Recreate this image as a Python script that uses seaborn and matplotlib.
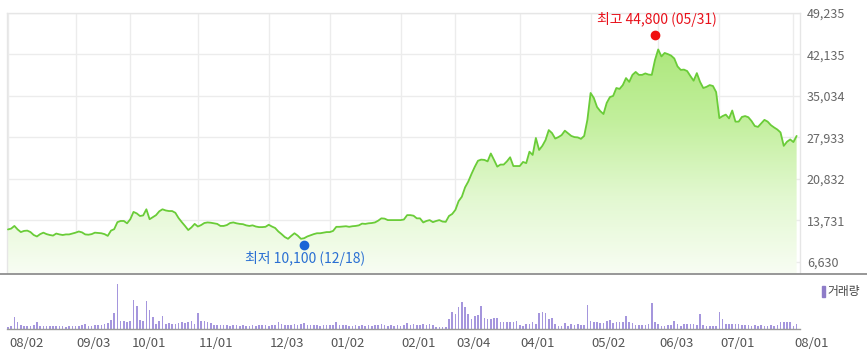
import numpy as np
import pandas as pd
import matplotlib
matplotlib.use("Agg")
import matplotlib.pyplot as plt
import matplotlib.transforms as mtransforms
import seaborn as sns
from matplotlib.colors import LinearSegmentedColormap
from matplotlib.lines import Line2D
from matplotlib.patches import Rectangle

# ---------------- data ----------------
holidays = ['2018-08-15', '2018-09-24', '2018-09-25', '2018-09-26', '2018-10-03',
            '2018-10-09', '2018-12-25', '2018-12-31', '2019-01-01', '2019-02-04',
            '2019-02-05', '2019-02-06', '2019-03-01', '2019-05-01', '2019-05-06',
            '2019-06-06']
dates = pd.bdate_range('2018-08-02', '2019-08-02')
dates = dates[~dates.isin(pd.to_datetime(holidays))]

prices = [
    12200, 12350, 12800, 12200, 11750, 11950, 12000, 11750, 11250, 11000,
    11400, 11650, 11400, 11250, 11150, 11500, 11350, 11250, 11350, 11350,
    11500, 11650, 11850, 11700, 11350, 11300, 11400, 11650, 11600, 11550,
    11400, 11100, 12000, 12250, 13450, 13650,
    13650, 13250, 13950, 15200, 14950, 14500, 14600, 15650, 13950, 14300,
    14650, 15300, 15650, 15450, 15350, 15350, 15050, 14150, 13450, 12800,
    12100, 12550, 13150, 12700, 12950, 13300, 13400, 13350, 13250, 13150,
    12800, 12800, 12950, 13300, 13400,
    13250, 13150, 13100, 12900, 12800, 12900, 12700, 12600, 12600, 12650,
    13000, 12700, 12450, 11850, 11400, 10900, 10600, 11100, 11550, 11150,
    10600, 10700, 11000, 11200, 11400, 11550, 11550, 11650, 11750, 11750,
    11950, 12650, 12650, 12700, 12750, 12650,
    12750, 12800, 12900, 13200, 13150, 13250, 13300, 13400, 13700, 14100,
    14050, 13800, 13800, 13800, 13800, 13800, 13900, 14650, 14650, 14550,
    14100, 14100, 13400, 13650, 13800, 13450, 13650, 13800, 13550, 13500,
    14500, 14850, 15550, 17050, 17800, 19400,
    20400, 21700, 22900, 23950, 24150, 24100, 23850, 25200, 24100, 22950,
    23300, 23300, 23850, 24550, 23050, 23050, 23050, 23750, 23550, 25500,
    24950, 27850, 25800, 26500, 27500, 29200, 28700, 27750, 28000, 28350,
    29100, 28650, 28200, 28000, 27950, 27700,
    28200, 30950, 35550, 34700, 33150, 32450, 31950, 33850, 34850, 35050,
    36400, 36250, 36900, 38100, 37450, 38650, 39150, 38650, 38650, 38900,
    38700, 38650, 41200, 43000, 41800, 42400, 42200, 41950, 41450, 40100,
    39500, 39550, 39300, 38450, 37650, 38950,
    37450, 36400, 36600, 36900, 36750, 35700, 31250, 31600, 31850, 31200,
    32550, 30650, 30650, 31450, 31600, 31400, 30750, 29900, 29750, 30350,
    30950, 30650, 30050, 29650, 29300, 28800, 26500, 27200, 27600, 27150,
    28200,
]

volumes = [
    200, 300, 1150, 700, 400, 300, 300, 300, 350, 650,
    300, 250, 300, 300, 250, 250, 250, 250, 200, 300,
    300, 300, 300, 350, 450, 300, 300, 350, 350, 400,
    500, 550, 900, 1570, 4500, 800,
    800, 700, 800, 2900, 2300, 900, 800, 2800, 1900, 1200,
    500, 800, 1300, 500, 600, 500, 500, 600, 700, 600,
    700, 800, 500, 1600, 800, 800, 700, 600, 400, 400,
    400, 350, 400, 300, 350,
    350, 300, 350, 300, 300, 350, 300, 350, 400, 350,
    300, 400, 350, 700, 500, 400, 350, 400, 450, 350,
    500, 550, 400, 350, 400, 350, 300, 350, 400, 350,
    400, 650, 400, 350, 350, 300,
    300, 350, 300, 350, 300, 350, 300, 400, 350, 500,
    350, 300, 350, 300, 350, 300, 350, 550, 400, 450,
    350, 400, 450, 400, 450, 350, 200, 150, 150, 200,
    1000, 1700, 1500, 2200, 2700, 2150,
    1500, 1000, 1330, 1400, 2300, 1100, 1000, 1000, 1130, 1100,
    670, 670, 670, 670, 670, 830, 400, 330, 470, 500,
    730, 500, 1600, 1670, 1600, 1000, 1100, 500, 330, 330,
    600, 330, 500, 400, 500, 400,
    400, 2330, 800, 730, 670, 600, 600, 800, 930, 600,
    670, 670, 730, 1270, 670, 600, 430, 400, 400, 400,
    500, 2600, 730, 500, 330, 330, 400, 400, 830, 500,
    330, 500, 500, 500, 500, 430,
    1500, 430, 330, 330, 330, 330, 1730, 1000, 500, 500,
    500, 500, 500, 400, 400, 400, 330, 400, 330, 400,
    330, 330, 400, 330, 400, 670, 730, 670, 670, 330,
    500,
]

tick_dates = ['2018-08-02', '2018-09-03', '2018-10-01', '2018-11-01', '2018-12-03',
              '2019-01-02', '2019-02-01', '2019-03-04', '2019-04-01', '2019-05-02',
              '2019-06-03', '2019-07-01', '2019-08-01']
tick_labels = ['08/02', '09/03', '10/01', '11/01', '12/03', '01/02', '02/01',
               '03/04', '04/01', '05/02', '06/03', '07/01', '08/01']
y_ticks = [6630, 13731, 20832, 27933, 35034, 42135, 49235]

high_label, high_value, high_date = '최고 44,800 (05/31)', 44800, '2019-05-31'
low_label, low_value, low_date = '최저 10,100 (12/18)', 10100, '2018-12-18'
volume_label = '거래량'

# ---------------- plotting ----------------
sns.set_theme(style='white')
plt.rcParams['font.family'] = ['Noto Sans CJK KR', 'DejaVu Sans']

n = min(len(prices), len(volumes), len(dates))
df = pd.DataFrame({'x': np.arange(n), 'price': prices[:n], 'volume': volumes[:n]})
pos = {d: i for i, d in enumerate(dates[:n])}
tick_idx = [pos[pd.Timestamp(d)] for d in tick_dates]

W, H = 867, 354
fig = plt.figure(figsize=(W / 100, H / 100), dpi=100)
ax = fig.add_axes([7 / W, 1 - 273 / H, 793 / W, 260 / H])
ax2 = fig.add_axes([7 / W, 1 - 329 / H, 793 / W, 50 / H])

ymin, ymax = 4748, 49235
xlim = (-0.3, n + 0.05)

# gradient fill under the line
poly = ax.fill_between(df['x'], df['price'], ymin, color='none', lw=0)
cmap = LinearSegmentedColormap.from_list('g', ['#f8fdf3', '#e2f8d0', '#c2ef9c', '#abe77a'])
grad = np.linspace(0, 1, 256).reshape(-1, 1)
im = ax.imshow(grad, extent=[df['x'].min(), df['x'].max(), ymin, 44000],
               origin='lower', aspect='auto', cmap=cmap, zorder=1)
im.set_clip_path(poly.get_paths()[0], transform=ax.transData)

sns.lineplot(data=df, x='x', y='price', ax=ax, color='#6acc38', lw=1.3, zorder=3)

ax.set_xlim(*xlim)
ax.set_ylim(ymin, ymax)
ax.set_xticks(tick_idx)
ax.set_yticks(y_ticks)
ax.set_yticklabels([f'{v:,}' for v in y_ticks])
ax.yaxis.tick_right()
ax.tick_params(axis='x', length=0, labelbottom=False)
ax.tick_params(axis='y', length=0, pad=5, labelsize=9, labelcolor='#666666')
ax.grid(True, color='#ececec', lw=1)
ax.set_axisbelow(True)
ax.set_xlabel('')
ax.set_ylabel('')
for s in ['top', 'left', 'right']:
    ax.spines[s].set_color('#e6e6e6')
    ax.spines[s].set_linewidth(1)
ax.spines['bottom'].set_visible(False)

# high / low markers
hi = pos[pd.Timestamp(high_date)]
lo = pos[pd.Timestamp(low_date)]
ax.plot([hi], [high_value], 'o', ms=6, color='#f01010', zorder=5,
        transform=ax.transData + mtransforms.ScaledTranslation(0, 4 / 100, fig.dpi_scale_trans))
ax.plot([lo], [low_value], 'o', ms=6, color='#1a64d6', zorder=5,
        transform=ax.transData + mtransforms.ScaledTranslation(0, -3 / 100, fig.dpi_scale_trans))
ax.annotate(high_label, xy=(hi, high_value), xytext=(2, 19), textcoords='offset pixels',
            ha='center', va='center', fontsize=10, color='#e8101a')
ax.annotate(low_label, xy=(lo, low_value), xytext=(1, -16.5), textcoords='offset pixels',
            ha='center', va='center', fontsize=10, color='#2a6fd3')

# volume bars
ax2.bar(df['x'], df['volume'], width=0.5, color='#a596dd', linewidth=0)
ax2.set_xlim(*xlim)
ax2.set_ylim(0, 4950)
ax2.set_yticks([])
ax2.set_xticks(tick_idx)
ax2.set_xticklabels(tick_labels, ha='left')
ax2.tick_params(axis='x', length=4, direction='inout', color='#9a9a9a', width=1,
                labelsize=9.5, labelcolor='#555555', pad=4)
offset = mtransforms.ScaledTranslation(1 / 100, 0, fig.dpi_scale_trans)
for lab in ax2.get_xticklabels():
    lab.set_transform(lab.get_transform() + offset)
ax2.set_xlabel('')
ax2.set_ylabel('')
for s in ['top', 'left', 'right']:
    ax2.spines[s].set_visible(False)
ax2.spines['bottom'].set_color('#9a9a9a')
ax2.spines['bottom'].set_linewidth(1)
ax2.patch.set_alpha(0)

# separator line and volume legend
fig.add_artist(Line2D([0, 1], [1 - 273.5 / H] * 2, color='#8f8f8f', lw=1.3))
fig.add_artist(Rectangle((822 / W, 1 - 297 / H), 3 / W, 11 / H, color='#8e7cc8',
                         transform=fig.transFigure))
fig.text(827 / W, 1 - 291.5 / H, volume_label, fontsize=8.5, color='#444444', va='center', ha='left')

fig.savefig('out.png', dpi=100)
